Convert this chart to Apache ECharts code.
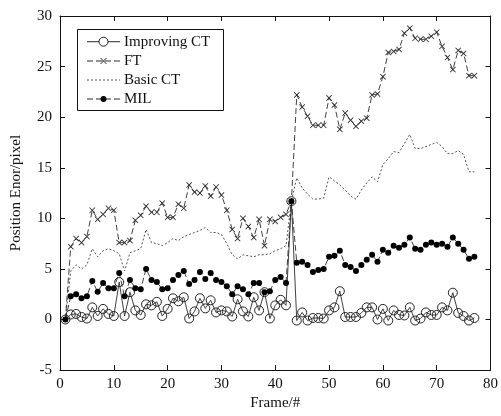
<!DOCTYPE html>
<html>
<head>
<meta charset="utf-8">
<script src="https://cdn.jsdelivr.net/npm/echarts@6/dist/echarts.min.js"></script>
<style>
  html, body { margin: 0; padding: 0; background: #fff; }
  #chart { width: 501px; height: 416px; }
</style>
</head>
<body>
<div id="chart"></div>
<script>
// Tracking error per frame for four trackers
const frames = Array.from({ length: 77 }, (_, i) => i + 1);

const improvingCT = [0,0.5,0.55,0.25,0.1,1.2,0.35,1.05,0.55,0.35,
  3.7,0.35,2.7,0.9,0.45,1.5,1.4,1.75,0.35,1.05,
  2.1,1.8,2.2,0.1,0.8,2.1,1.1,1.9,0.7,0.9,
  0.8,0.3,2.0,0.8,0.3,2.2,0.9,2.7,0.1,1.4,
  1.95,1.4,11.7,-0.1,0.7,-0.1,0.15,0.15,0.1,0.9,
  1.2,2.8,0.25,0.25,0.25,0.65,1.2,1.2,0,1.05,
  -0.1,0.9,0.45,0.4,1.2,-0.1,0.1,0.7,0.45,0.45,
  1.2,0.9,2.65,0.65,0.35,-0.1,0.15];

const ft = [0,7.2,8.0,7.6,8.2,10.8,9.9,10.4,11.0,10.8,
  7.6,7.6,7.8,9.8,10.3,11.2,10.6,10.6,11.5,10.1,
  10.1,11.4,11.0,13.3,12.6,12.5,13.2,12.2,13.1,12.3,
  10.8,8.9,8.0,10.0,9.2,8.1,9.9,7.3,9.9,9.7,
  10.1,10.4,11.7,22.2,21.0,20.1,19.2,19.2,19.2,21.9,
  21.2,18.8,20.4,19.7,19.1,19.6,19.9,22.2,22.3,24.0,
  26.4,26.5,26.7,28.3,28.8,27.8,27.7,27.7,28.0,28.4,
  27.0,25.9,24.7,26.6,26.3,24.1,24.1];

const basicCT = [0,4.8,5.4,5.0,5.4,7.0,6.2,6.8,7.0,6.8,
  6.5,4.8,6.6,6.8,7.0,8.9,7.6,7.5,7.3,7.6,
  8.0,7.8,8.2,8.4,8.6,8.8,9.1,8.6,8.6,8.4,
  7.5,6.4,6.0,6.4,6.3,6.2,6.4,6.4,6.5,6.8,
  7.0,7.3,11.7,14.0,13.0,12.4,11.9,11.9,12.0,14.1,
  13.7,13.3,12.8,12.2,11.9,12.8,13.5,14.1,13.6,15.3,
  15.9,16.6,16.5,17.4,18.3,16.9,16.9,17.1,17.3,17.5,
  17.1,16.4,16.4,16.7,16.3,14.6,14.6];

const mil = [0,2.3,2.5,2.1,2.3,3.8,2.75,3.6,3.1,3.1,
  4.6,2.3,3.9,3.1,3.0,5.0,3.9,3.7,3.0,3.1,
  3.9,4.4,4.8,3.5,3.9,4.7,4.0,4.6,3.9,3.7,
  3.3,2.5,3.3,3.0,2.5,3.6,3.6,2.7,2.8,3.9,
  4.2,3.6,11.7,5.6,5.7,5.4,4.7,4.9,5.0,6.2,
  6.3,6.8,5.4,5.2,4.8,5.4,5.9,6.4,5.7,6.9,
  6.6,7.3,7.1,7.4,8.1,7.0,6.9,7.4,7.6,7.4,
  7.5,7.2,8.1,7.5,6.9,6.0,6.2];

const seriesNames = ['Improving CT', 'FT', 'Basic CT', 'MIL'];

const pairs = vals => frames.map((f, i) => [f, vals[i]]);

const FONT = 'Liberation Serif, Times New Roman, serif';
const INK = '#111';
const LINE = '#2a2a2a';
const DASH = [6, 3];
const DOT = [2, 2];
const crossPath = 'path://M0,1L1,0L5,4L9,0L10,1L6,5L10,9L9,10L5,6L1,10L0,9L4,5Z';

const axisCommon = {
  axisLine: { show: true, onZero: false, lineStyle: { color: INK, width: 1 } },
  axisTick: { show: true, inside: true, length: 5, lineStyle: { color: INK } },
  splitLine: { show: false }
};

// Boxed legend: line sample, marker and label per series
function legendGraphics() {
  const boxX = 77.5, boxY = 29.5, rows = [41.7, 61, 80, 99];
  const x1 = 87, x2 = 120, mx = (x1 + x2) / 2, tx = 124;
  const els = [{
    type: 'rect', z: 100,
    shape: { x: boxX, y: boxY, width: 146, height: 81 },
    style: { fill: '#fff', stroke: INK, lineWidth: 1 }
  }];
  const dashes = [null, DASH, DOT, DASH];
  const strokes = [LINE, LINE, '#555', LINE];
  seriesNames.forEach((name, i) => {
    const cy = rows[i];
    els.push({
      type: 'line', z: 101,
      shape: { x1: x1, y1: cy, x2: x2, y2: cy },
      style: { stroke: strokes[i], lineWidth: 1, lineDash: dashes[i] }
    });
    if (i === 0) {
      els.push({ type: 'circle', z: 102, shape: { cx: mx, cy: cy, r: 4.5 },
        style: { fill: '#fff', stroke: '#222', lineWidth: 1 } });
    } else if (i === 1) {
      els.push({ type: 'line', z: 102, shape: { x1: mx - 3, y1: cy - 3, x2: mx + 3, y2: cy + 3 },
        style: { stroke: LINE, lineWidth: 1 } });
      els.push({ type: 'line', z: 102, shape: { x1: mx - 3, y1: cy + 3, x2: mx + 3, y2: cy - 3 },
        style: { stroke: LINE, lineWidth: 1 } });
    } else if (i === 3) {
      els.push({ type: 'circle', z: 102, shape: { cx: mx, cy: cy, r: 3 },
        style: { fill: '#000' } });
    }
    els.push({
      type: 'text', z: 102, x: tx, y: cy,
      style: { text: name, font: '15px ' + FONT, fill: INK, verticalAlign: 'middle', align: 'left' }
    });
  });
  return els;
}

const chart = echarts.init(document.getElementById('chart'), null, { renderer: 'canvas' });
chart.setOption({
  backgroundColor: '#fff',
  animation: false,
  grid: { left: 60, right: 8, top: 16, bottom: 36 },
  xAxis: [
    Object.assign({}, axisCommon, {
      type: 'value', min: 0, max: 80, interval: 10,
      name: 'Frame/#', nameLocation: 'middle', nameGap: 22,
      nameTextStyle: { fontFamily: FONT, fontSize: 15, color: INK },
      axisLabel: { fontFamily: FONT, fontSize: 15, color: INK, margin: 6 }
    }),
    Object.assign({}, axisCommon, {
      type: 'value', position: 'top', min: 0, max: 80, interval: 10,
      axisLabel: { show: false }
    })
  ],
  yAxis: [
    Object.assign({}, axisCommon, {
      type: 'value', min: -5, max: 30, interval: 5,
      name: 'Position Enor/pixel', nameLocation: 'middle', nameGap: 36,
      nameTextStyle: { fontFamily: FONT, fontSize: 15, color: INK },
      axisLabel: { fontFamily: FONT, fontSize: 15, color: INK, margin: 8 }
    }),
    Object.assign({}, axisCommon, {
      type: 'value', position: 'right', min: -5, max: 30, interval: 5,
      axisLabel: { show: false }
    })
  ],
  graphic: legendGraphics(),
  series: [
    {
      name: 'FT', type: 'line', data: pairs(ft), z: 2,
      symbol: crossPath, symbolSize: 6,
      itemStyle: { color: LINE },
      lineStyle: { color: LINE, width: 0.9, type: DASH }
    },
    {
      name: 'Basic CT', type: 'line', data: pairs(basicCT), z: 1,
      symbol: 'none',
      itemStyle: { color: '#555' },
      lineStyle: { color: '#555', width: 1, type: DOT }
    },
    {
      name: 'Improving CT', type: 'line', data: pairs(improvingCT), z: 3,
      symbol: 'circle', symbolSize: 9,
      itemStyle: { color: 'rgba(255,255,255,0)', borderColor: '#222', borderWidth: 1 },
      lineStyle: { color: LINE, width: 0.9 }
    },
    {
      name: 'MIL', type: 'line', data: pairs(mil), z: 4,
      symbol: 'circle', symbolSize: 6,
      itemStyle: { color: '#000' },
      lineStyle: { color: LINE, width: 0.9, type: DASH }
    }
  ]
});
</script>
</body>
</html>
